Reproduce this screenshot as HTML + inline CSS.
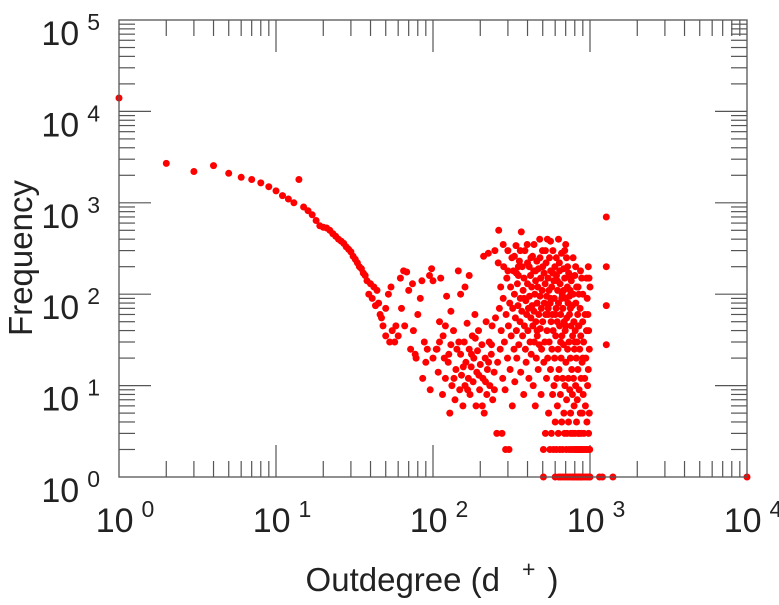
<!DOCTYPE html>
<html><head><meta charset="utf-8"><style>
body{margin:0;background:#fff;width:779px;height:600px;overflow:hidden}
svg text{font-family:"Liberation Sans",sans-serif;fill:#222}
</style></head><body>
<svg id="chart" width="779" height="600" xmlns="http://www.w3.org/2000/svg">
<g id="ticks"></g>
<g id="labels"></g>
<g id="points"></g>
<rect x="119" y="20" width="628" height="457" fill="none" stroke="#555" stroke-width="1.3"/>
<text x="432" y="591" font-size="33" text-anchor="middle">Outdegree (d<tspan dx="22" dy="-14" font-size="23">+</tspan><tspan dx="12" dy="14">)</tspan></text>
<text transform="translate(32,258) rotate(-90)" font-size="33" text-anchor="middle">Frequency</text>
</svg>
<script>
const xTickExps=[0,1,2,3,4];
const yTickExps=[0,1,2,3,4,5];
const outdegree=[1,2,3,4,5,6,7,8,9,10,11,12,13,14,15,16,17,18,19,20,21,22,23,24,25,26,27,28,29,30,31,32,33,34,35,36,37,38,40,42,44,
39,41,43,45,46,47,48,50,52,54,55,57,58,60,62,65,68,70,72,75,78,80,83,85,88,90,92,95,98,100,50,53,63,66,74,77,86,96,
105,108,110,112,115,118,120,122,125,128,130,132,135,138,140,142,145,148,150,152,155,158,160,162,165,168,170,172,175,178,180,182,185,188,190,192,195,198,200,205,208,210,212,215,218,220,222,225,228,230,235,238,240,245,248,250,110,120,130,150,160,170,100,106,116,126,136,146,156,166,176,186,196,206,216,226,236,246,
255,258,262,265,268,270,272,275,278,280,282,285,288,290,292,295,298,300,302,305,308,310,312,315,318,320,322,325,328,330,332,335,338,340,342,345,348,350,352,355,358,360,362,365,368,370,372,375,378,380,382,385,388,390,392,395,398,400,402,405,408,410,412,415,418,420,422,425,428,430,432,435,438,440,442,445,448,450,452,455,458,460,462,465,468,470,472,475,478,480,482,485,488,490,492,495,498,500,505,505,508,510,512,515,518,520,522,525,528,530,532,535,538,540,542,545,548,550,552,555,558,560,562,565,568,570,572,575,578,580,582,585,588,590,592,595,598,600,600,605,608,610,612,615,618,620,622,625,628,630,632,635,638,640,642,645,648,650,652,655,658,660,662,665,668,670,672,675,678,680,682,685,688,690,692,695,698,700,702,705,708,710,712,715,718,720,722,725,728,730,732,735,738,740,742,745,748,750,752,755,758,760,762,765,768,770,772,775,778,780,782,785,788,790,792,795,798,800,802,805,808,810,812,815,818,820,822,825,828,830,832,835,838,840,842,845,848,850,852,855,858,860,862,865,868,870,872,875,878,880,882,885,888,890,892,895,898,900,905,910,915,920,925,930,935,940,945,950,955,960,965,970,975,980,985,990,995,1000,
960,970,980,990,1000,985,975,1270,1270,1270,1270,1150,1200,1400,10000,
610,640,660,690,720,750,780,810,840,870,900,930,950,630,700,560,520,480,440,400,360,330,300,280,260,600,650,700,750,800,850,900,500,450,350,620,680,740,560,580,540,460,420,380,340];
const frequency=[14000,2700,2200,2550,2100,1900,1800,1650,1500,1350,1200,1100,1000,1800,900,820,740,640,560,540,530,500,460,430,400,380,360,330,310,290,260,240,220,200,190,170,160,140,130,120,110,
100,90,75,80,60,55,45,70,100,120,40,30,45,35,150,180,175,110,25,40,20,60,90,140,30,18,25,160,190,20,35,30,70,45,130,22,12,9,
25,14,30,150,8,20,12,95,18,5,28,10,40,7,15,25,180,9,22,13,6,30,10,18,48,12,25,8,16,35,11,20,60,6,14,24,40,9,17,28,12,260,5,20,50,8,15,280,30,10,22,45,7,14,300,55,50,45,65,100,120,160,140,25,35,22,12,30,16,9,22,33,13,6,11,18,28,9,
3,18,500,70,25,120,40,3,12,90,200,30,9,2,60,150,20,300,45,2,80,15,120,35,250,6,70,180,25,100,11,55,340,40,20,130,75,160,28,230,50,90,14,480,65,200,35,110,8,150,45,300,25,85,18,60,350,130,40,70,12,200,95,30,160,55,22,120,75,260,45,10,180,65,30,100,6,140,50,20,230,80,35,120,15,190,60,28,400,95,42,150,8,70,25,110,300,50,1,2,18,170,80,30,130,3,60,220,12,95,40,400,20,150,70,5,110,30,250,2,80,15,180,50,3,120,25,60,8,300,40,2,140,10,90,20,200,1,4,35,70,2,160,12,50,6,110,25,3,80,1,15,220,45,2,130,8,60,1,20,280,4,35,100,2,12,70,1,28,190,5,50,3,150,10,40,1,90,18,2,250,7,55,3,120,25,1,80,12,4,170,30,2,60,9,1,110,20,5,3,45,140,2,15,1,75,8,35,3,1,100,12,2,50,6,25,1,160,3,40,2,10,80,1,20,4,120,2,30,7,1,60,15,3,2,45,1,100,9,3,2,25,1,70,5,2,35,1,12,3,2,150,1,18,5,2,50,1,8,30,3,2,12,1,6,20,2,40,4,1,10,2,15,3,1,5,2,1,
90,60,40,25,120,150,200,700,200,75,28,1,1,1,1,
250,180,90,300,200,150,250,200,120,180,100,60,150,400,350,380,300,250,350,220,300,260,180,350,220,60,30,45,70,30,45,20,200,180,200,140,110,95,90,170,60,40,250,90,170];
const X0=119,XS=157,Y0=477,YS=91.4;
function xPos(d){return X0+XS*Math.log10(d);}
function yPos(f){return Y0-YS*Math.log10(f);}
const NS="http://www.w3.org/2000/svg";
const tg=document.getElementById('ticks'),lg=document.getElementById('labels'),pg=document.getElementById('points');
function line(x1,y1,x2,y2,name){const l=document.createElementNS(NS,'line');


l.setAttribute('x1',x1);l.setAttribute('y1',y1);l.setAttribute('x2',x2);l.setAttribute('y2',y2);l.setAttribute('stroke','#555');l.setAttribute('stroke-width','1.2');tg.appendChild(l);}
function label(x,y,e,anchor,name){const t=document.createElementNS(NS,'text');


t.setAttribute('x',x);t.setAttribute('y',y);t.setAttribute('font-size','34');t.setAttribute('text-anchor',anchor);
t.innerHTML='10<tspan dx="8" dy="-15" font-size="23">'+e+'</tspan>';lg.appendChild(t);}
xTickExps.forEach((e,i)=>{const x=xPos(Math.pow(10,e));
if(e>0&&e<4){line(x,477,x,445,'x-major-tick');line(x,20,x,52,'x-major-tick-top');}
label(x+6,532,e,'middle','x-tick-label');
if(i<xTickExps.length-1)for(let m=2;m<10;m++){const xm=xPos(m*Math.pow(10,e));line(xm,477,xm,461,'x-minor-tick');line(xm,20,xm,36,'x-minor-tick-top');}});
yTickExps.forEach((e,i)=>{const y=yPos(Math.pow(10,e));
if(e>0&&e<5){line(119,y,151,y,'y-major-tick');line(747,y,715,y,'y-major-tick-right');}
label(100,y+25,e,'end','y-tick-label');
if(i<yTickExps.length-1)for(let m=2;m<10;m++){const ym=yPos(m*Math.pow(10,e));line(119,ym,135,ym,'y-minor-tick');line(747,ym,731,ym,'y-minor-tick-right');}});
for(let i=0;i<outdegree.length;i++){const c=document.createElementNS(NS,'circle');


c.setAttribute('cx',xPos(outdegree[i]).toFixed(1));c.setAttribute('cy',yPos(frequency[i]).toFixed(1));c.setAttribute('r','3.5');c.setAttribute('fill','#f00');pg.appendChild(c);}
</script>
</body></html>
